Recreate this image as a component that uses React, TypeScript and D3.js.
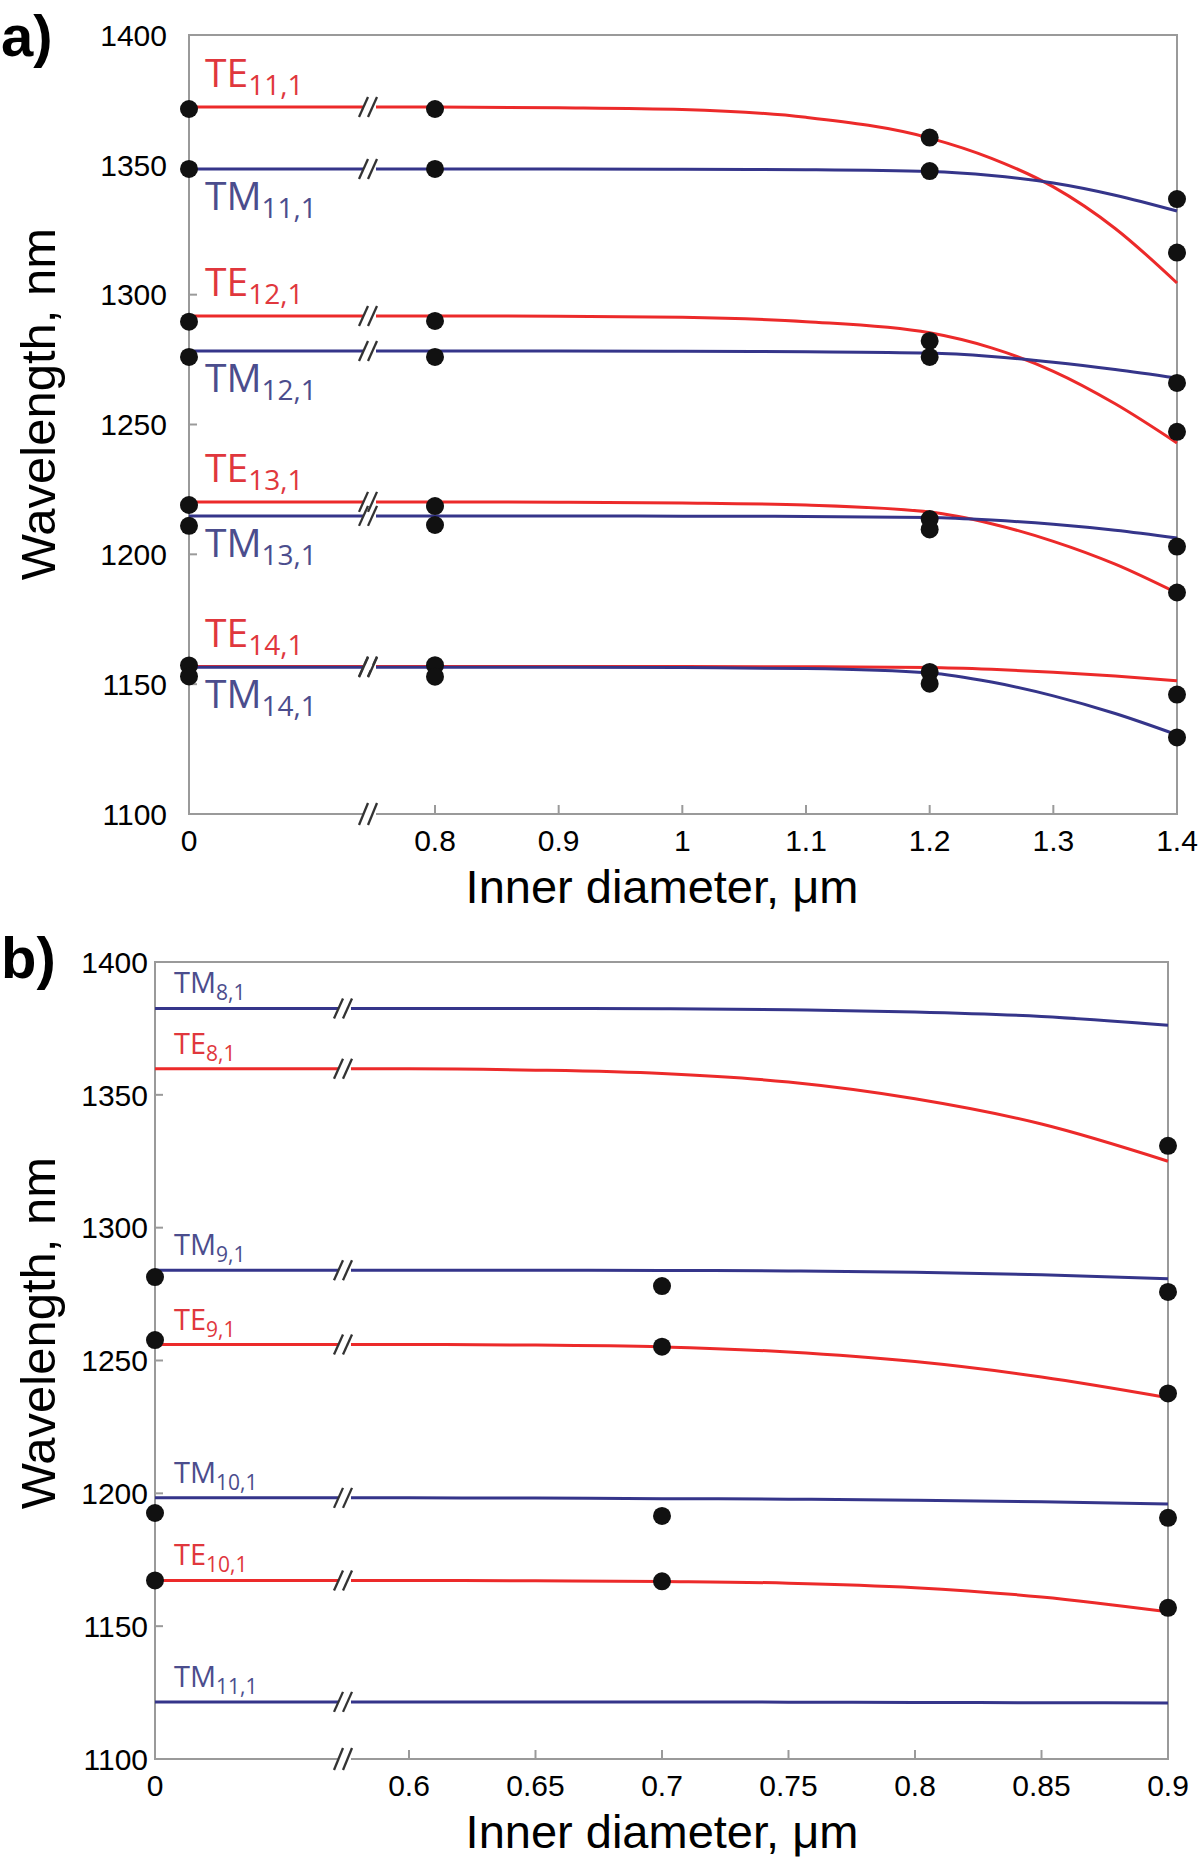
import React from 'react';
import * as d3 from 'd3';

// ---------------- Panel a data ----------------
const A_X_TICKS = [0, 0.8, 0.9, 1.0, 1.1, 1.2, 1.3, 1.4];
const A_Y_TICKS = [1100, 1150, 1200, 1250, 1300, 1350, 1400];
const A_CURVE_X = [0, 0.8, 0.9, 1.0, 1.1, 1.2, 1.25, 1.3, 1.35, 1.4];
const A_DOT_X = [0, 0.8, 1.2, 1.4];

const A_TE11 = [1372.3, 1372.3, 1372.0, 1371.3, 1368.3, 1360.3, 1352.5, 1341.5, 1325.5, 1304.5];
const A_TM11 = [1348.4, 1348.4, 1348.4, 1348.3, 1348.1, 1347.4, 1345.9, 1343.0, 1338.3, 1332.2];
const A_TE12 = [1291.8, 1291.8, 1291.7, 1291.3, 1289.6, 1285.3, 1279.5, 1270.5, 1258.0, 1242.9];
const A_TM12 = [1278.3, 1278.3, 1278.3, 1278.2, 1278.0, 1277.5, 1276.2, 1274.0, 1271.2, 1267.9];
const A_TE13 = [1220.2, 1220.2, 1220.1, 1219.8, 1219.0, 1216.3, 1211.8, 1205.0, 1196.2, 1185.1];
const A_TM13 = [1214.8, 1214.8, 1214.8, 1214.7, 1214.6, 1214.2, 1213.2, 1211.6, 1209.3, 1206.3];
const A_TE14 = [1156.8, 1156.8, 1156.8, 1156.8, 1156.7, 1156.4, 1155.7, 1154.6, 1153.1, 1151.3];
const A_TM14 = [1156.5, 1156.5, 1156.5, 1156.4, 1156.0, 1154.3, 1150.8, 1145.5, 1138.7, 1130.5];

const A_TE11_DOTS = [1371.5, 1371.5, 1360.5, 1316.2];
const A_TM11_DOTS = [1348.4, 1348.4, 1347.6, 1336.8];
const A_TE12_DOTS = [1289.6, 1289.9, 1282.2, 1247.2];
const A_TM12_DOTS = [1276.0, 1276.0, 1276.0, 1266.0];
const A_TE13_DOTS = [1219.0, 1218.6, 1213.6, 1185.3];
const A_TM13_DOTS = [1211.0, 1211.3, 1209.6, 1203.0];
const A_TE14_DOTS = [1157.2, 1157.3, 1154.7, 1146.0];
const A_TM14_DOTS = [1153.0, 1152.9, 1150.2, 1129.5];

// ---------------- Panel b data ----------------
const B_X_TICKS = [0, 0.6, 0.65, 0.7, 0.75, 0.8, 0.85, 0.9];
const B_Y_TICKS = [1100, 1150, 1200, 1250, 1300, 1350, 1400];
const B_CURVE_X = [0, 0.6, 0.65, 0.7, 0.75, 0.8, 0.85, 0.9];
const B_DOT_X = [0, 0.7, 0.9];

const B_TM8 = [1382.5, 1382.5, 1382.5, 1382.4, 1382.0, 1381.2, 1379.5, 1376.2];
const B_TE8 = [1359.8, 1359.8, 1359.3, 1358.0, 1354.8, 1348.5, 1339.0, 1325.0];
const B_TM9 = [1284.0, 1284.0, 1284.0, 1283.9, 1283.7, 1283.2, 1282.3, 1280.8];
const B_TE9 = [1256.0, 1256.0, 1255.8, 1255.1, 1253.2, 1249.6, 1243.8, 1236.0];
const B_TM10 = [1198.3, 1198.3, 1198.2, 1198.0, 1197.8, 1197.4, 1196.8, 1196.0];
const B_TE10 = [1167.2, 1167.2, 1167.1, 1166.8, 1166.2, 1164.5, 1161.0, 1155.4];
const B_TM11 = [1121.5, 1121.5, 1121.5, 1121.5, 1121.4, 1121.3, 1121.2, 1121.1];

const B_TE8_DOTS = [null, null, 1330.8];
const B_TM9_DOTS = [1281.4, 1278.0, 1275.8];
const B_TE9_DOTS = [1257.7, 1255.2, 1237.6];
const B_TM10_DOTS = [1192.6, 1191.5, 1190.8];
const B_TE10_DOTS = [1167.2, 1166.9, 1156.9];

type Mode = { kind: 'TE' | 'TM'; sub: string; curve: number[]; dots: (number | null)[] | null };

const A_MODES: Mode[] = [
  { kind: 'TE', sub: '11,1', curve: A_TE11, dots: A_TE11_DOTS },
  { kind: 'TM', sub: '11,1', curve: A_TM11, dots: A_TM11_DOTS },
  { kind: 'TE', sub: '12,1', curve: A_TE12, dots: A_TE12_DOTS },
  { kind: 'TM', sub: '12,1', curve: A_TM12, dots: A_TM12_DOTS },
  { kind: 'TE', sub: '13,1', curve: A_TE13, dots: A_TE13_DOTS },
  { kind: 'TM', sub: '13,1', curve: A_TM13, dots: A_TM13_DOTS },
  { kind: 'TE', sub: '14,1', curve: A_TE14, dots: A_TE14_DOTS },
  { kind: 'TM', sub: '14,1', curve: A_TM14, dots: A_TM14_DOTS },
];

const B_MODES: Mode[] = [
  { kind: 'TM', sub: '8,1', curve: B_TM8, dots: null },
  { kind: 'TE', sub: '8,1', curve: B_TE8, dots: B_TE8_DOTS },
  { kind: 'TM', sub: '9,1', curve: B_TM9, dots: B_TM9_DOTS },
  { kind: 'TE', sub: '9,1', curve: B_TE9, dots: B_TE9_DOTS },
  { kind: 'TM', sub: '10,1', curve: B_TM10, dots: B_TM10_DOTS },
  { kind: 'TE', sub: '10,1', curve: B_TE10, dots: B_TE10_DOTS },
  { kind: 'TM', sub: '11,1', curve: B_TM11, dots: null },
];

const RED = '#ec2a2a';
const BLUE = '#35358a';
const RED_TXT = '#e0373d';
const BLUE_TXT = '#4b4d8d';
const FRAME = '#9a9a9a';
const ARIAL = "'Liberation Sans', Arial, Helvetica, sans-serif";
const LABEL_FONT = "'Open Sans', 'Noto Sans', sans-serif";

type PanelProps = {
  letter: string;
  letterY: number;
  xDomain: number[];
  xRange: number[];
  top: number;
  bottom: number;
  breakX: number;
  xTicks: number[];
  yTicks: number[];
  curveX: number[];
  dotX: number[];
  modes: Mode[];
  yLabelRight: number;
  yTitleCenter: number;
  labelX: number;
  labelSize: number;
  subSize: number;
  subDy: number;
  teOffset: number;
  tmOffset: number;
  dotR: number;
};

function Panel(p: PanelProps) {
  const x = d3.scaleLinear().domain(p.xDomain).range(p.xRange);
  const y = d3.scaleLinear().domain([1100, 1400]).range([p.bottom, p.top]);
  const left = p.xRange[0];
  const right = p.xRange[p.xRange.length - 1];
  const line = d3
    .line<[number, number]>()
    .x((d) => x(d[0]))
    .y((d) => y(d[1]))
    .curve(d3.curveMonotoneX);
  const fmt = (v: number) => (v === 0 ? '0' : String(+v.toFixed(2)));

  const slashes = (cy: number, key: string, h = 10) => (
    <g key={key}>
      <line x1={p.breakX - 7} x2={p.breakX + 6} y1={cy} y2={cy} stroke="#fff" strokeWidth={5} />
      <line x1={p.breakX - 11} y1={cy + h} x2={p.breakX - 2} y2={cy - h} stroke="#333" strokeWidth={2.3} />
      <line x1={p.breakX - 2} y1={cy + h} x2={p.breakX + 7} y2={cy - h} stroke="#333" strokeWidth={2.3} />
    </g>
  );

  return (
    <g>
      <text x={1} y={p.letterY} fontFamily={ARIAL} fontWeight="bold" fontSize={58} fill="#000">
        {p.letter}
      </text>
      {/* frame */}
      <rect x={left} y={p.top} width={right - left} height={p.bottom - p.top} fill="none" stroke={FRAME} strokeWidth={2} />
      {/* y ticks */}
      {p.yTicks.map((t) => (
        <g key={'yt' + t}>
          {t > 1100 && t < 1400 && (
            <line x1={left} x2={left + 8} y1={y(t)} y2={y(t)} stroke={FRAME} strokeWidth={2} />
          )}
          <text x={p.yLabelRight} y={y(t)} dy="0.36em" textAnchor="end" fontFamily={ARIAL} fontSize={30} fill="#000">
            {t}
          </text>
        </g>
      ))}
      {/* x ticks */}
      {p.xTicks.map((t, i) => (
        <g key={'xt' + t}>
          {i > 0 && i < p.xTicks.length - 1 && (
            <line x1={x(t)} x2={x(t)} y1={p.bottom} y2={p.bottom - 9} stroke={FRAME} strokeWidth={2} />
          )}
          <text x={x(t)} y={p.bottom + 37} textAnchor="middle" fontFamily={ARIAL} fontSize={30} fill="#000">
            {fmt(t)}
          </text>
        </g>
      ))}
      {slashes(p.bottom, 'axisbreak', 11)}
      {/* curves */}
      {p.modes.map((m, i) => (
        <path
          key={'c' + i}
          d={line(p.curveX.map((cx, j) => [cx, m.curve[j]] as [number, number])) || ''}
          fill="none"
          stroke={m.kind === 'TE' ? RED : BLUE}
          strokeWidth={3}
        />
      ))}
      {p.modes.map((m, i) => slashes(y(m.curve[0]), 'b' + i, 10))}
      {/* dots */}
      {p.modes.map((m, i) =>
        (m.dots || []).map((v, j) =>
          v == null ? null : <circle key={'d' + i + '-' + j} cx={x(p.dotX[j])} cy={y(v)} r={p.dotR} fill="#111" />
        )
      )}
      {/* labels */}
      {p.modes.map((m, i) => (
        <text
          key={'l' + i}
          x={p.labelX}
          y={y(m.curve[0]) + (m.kind === 'TE' ? p.teOffset : p.tmOffset)}
          fontFamily={LABEL_FONT}
          fontSize={p.labelSize}
          fill={m.kind === 'TE' ? RED_TXT : BLUE_TXT}
        >
          {m.kind}
          <tspan fontSize={p.subSize} dy={p.subDy}>
            {m.sub}
          </tspan>
        </text>
      ))}
      {/* axis titles */}
      <text
        transform={`translate(37,${p.yTitleCenter}) rotate(-90)`}
        dy="0.36em"
        textAnchor="middle"
        fontFamily={ARIAL}
        fontSize={49}
        fill="#000"
      >
        Wavelength, nm
      </text>
      <text x={662} y={p.bottom + 89} textAnchor="middle" fontFamily={ARIAL} fontSize={47} fill="#000">
        Inner diameter, μm
      </text>
    </g>
  );
}

export default function App() {
  return (
    <svg
      width={1200}
      height={1873}
      viewBox="0 0 1200 1873"
      style={{ position: 'absolute', left: 0, top: 0, display: 'block', background: '#fff' }}
    >
      <rect x={0} y={0} width={1200} height={1873} fill="#fff" />
      <Panel
        letter="a)"
        letterY={56}
        xDomain={[0, 0.8, 1.4]}
        xRange={[189, 435, 1177]}
        top={35}
        bottom={814}
        breakX={370}
        xTicks={A_X_TICKS}
        yTicks={A_Y_TICKS}
        curveX={A_CURVE_X}
        dotX={A_DOT_X}
        modes={A_MODES}
        yLabelRight={167}
        yTitleCenter={404}
        labelX={205}
        labelSize={39}
        subSize={28}
        subDy={8}
        teOffset={-20}
        tmOffset={41}
        dotR={9}
      />
      <Panel
        letter="b)"
        letterY={978}
        xDomain={[0, 0.6, 0.9]}
        xRange={[155, 409, 1168]}
        top={962}
        bottom={1759}
        breakX={345}
        xTicks={B_X_TICKS}
        yTicks={B_Y_TICKS}
        curveX={B_CURVE_X}
        dotX={B_DOT_X}
        modes={B_MODES}
        yLabelRight={148}
        yTitleCenter={1333}
        labelX={174}
        labelSize={29}
        subSize={21}
        subDy={7}
        teOffset={-15}
        tmOffset={-15}
        dotR={9}
      />
    </svg>
  );
}
